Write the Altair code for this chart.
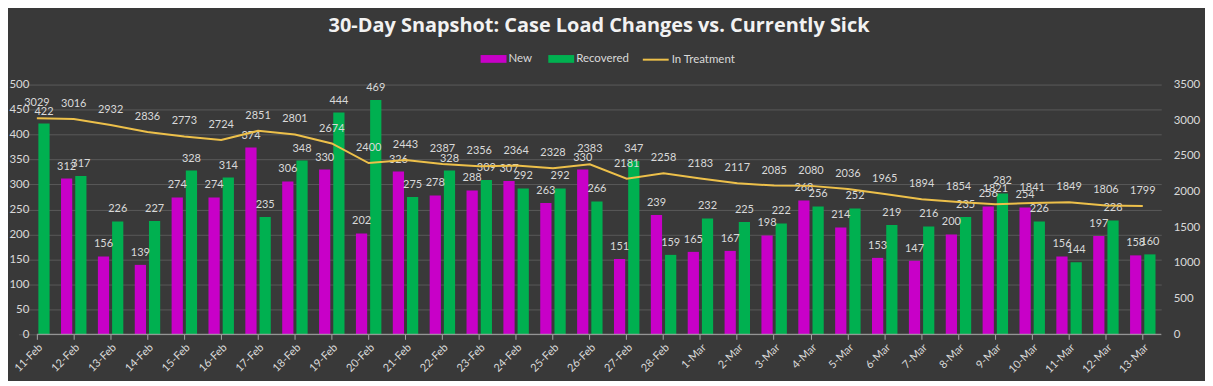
import altair as alt
import pandas as pd

dates = ["11-Feb", "12-Feb", "13-Feb", "14-Feb", "15-Feb", "16-Feb", "17-Feb", "18-Feb",
         "19-Feb", "20-Feb", "21-Feb", "22-Feb", "23-Feb", "24-Feb", "25-Feb", "26-Feb",
         "27-Feb", "28-Feb", "1-Mar", "2-Mar", "3-Mar", "4-Mar", "5-Mar", "6-Mar", "7-Mar",
         "8-Mar", "9-Mar", "10-Mar", "11-Mar", "12-Mar", "13-Mar"]
new_cases = [None, 312, 156, 139, 274, 274, 374, 306, 330, 202, 326, 278, 288, 307, 263, 330,
             151, 239, 165, 167, 198, 268, 214, 153, 147, 200, 256, 254, 156, 197, 158]
recovered = [422, 317, 226, 227, 328, 314, 235, 348, 444, 469, 275, 328, 309, 292, 292, 266,
             347, 159, 232, 225, 222, 256, 252, 219, 216, 235, 282, 226, 144, 228, 160]
in_treatment = [3029, 3016, 2932, 2836, 2773, 2724, 2851, 2801, 2674, 2400, 2443, 2387, 2356,
                2364, 2328, 2383, 2181, 2258, 2183, 2117, 2085, 2080, 2036, 1965, 1894, 1854,
                1821, 1841, 1849, 1806, 1799]
series = ["New", "Recovered"]
left_ticks = list(range(0, 501, 50))
right_ticks = list(range(0, 3501, 500))

FONT = "Lato"
TXT = "#d9d9d9"
W, H = 1130, 251

rows = []
for d, n, r in zip(dates, new_cases, recovered):
    rows.append({"date": d, "series": "New", "value": n})
    rows.append({"date": d, "series": "Recovered", "value": r})
bars_df = pd.DataFrame(rows)
line_df = pd.DataFrame({"date": dates, "it": in_treatment})

xscale = alt.Scale(range=[-18.5, W], paddingInner=0.31, paddingOuter=0.155)
xaxis = alt.Axis(labelAngle=-45, title=None, domain=False, ticks=True, tickSize=5,
                 tickColor="#a6a6a6", labelColor=TXT, labelFont=FONT,
                 labelFontSize=11, labelPadding=2, grid=False)
xenc = alt.X("date:N", sort=dates, scale=xscale, axis=xaxis, title=None)
yl_scale = alt.Scale(domain=[0, 500], nice=False)
yl_axis = alt.Axis(values=left_ticks, title=None, domain=False, ticks=False, format="d",
                   grid=True, gridColor="#5a5a5a", gridWidth=1,
                   labelColor=TXT, labelFont=FONT, labelFontSize=11.5, labelPadding=8)
yr_scale = alt.Scale(domain=[0, 3500], nice=False)
yr_axis = alt.Axis(orient="right", values=right_ticks, title=None, domain=False, format="d",
                   ticks=False, grid=False, labelColor=TXT, labelFont=FONT,
                   labelFontSize=11.5, labelPadding=12)
xoff = alt.XOffset("series:N", sort=series, scale=alt.Scale(paddingInner=0.21))

base_b = alt.Chart(bars_df)
bars = base_b.mark_bar().encode(
    x=xenc,
    xOffset=xoff,
    y=alt.Y("value:Q", scale=yl_scale, axis=yl_axis, title=None),
    color=alt.Color("series:N", sort=series,
                    scale=alt.Scale(domain=series, range=["#C800C8", "#00B050"]),
                    legend=alt.Legend(title=None, orient="none", legendX=446, legendY=-39,
                                      direction="horizontal", symbolType="M-1,-0.3L1,-0.3L1,0.3L-1,0.3Z",
                                      symbolSize=676, symbolStrokeWidth=0, labelColor=TXT,
                                      labelFont=FONT, labelFontSize=11.5, labelOffset=2,
                                      columnPadding=16, padding=0)),
)
bar_labels = base_b.mark_text(font=FONT, fontSize=11, color=TXT, baseline="middle", dy=-12).encode(
    x=xenc,
    xOffset=xoff,
    y=alt.Y("value:Q", scale=yl_scale, axis=yl_axis, title=None),
    text=alt.Text("value:Q"),
)
baseline = alt.Chart(pd.DataFrame({"value": [0]})).mark_rule(color="#a6a6a6", strokeWidth=1).encode(
    y=alt.Y("value:Q", scale=yl_scale, axis=yl_axis, title=None)
)
left_layer = alt.layer(bars, bar_labels, baseline)

base_l = alt.Chart(line_df)
line = base_l.mark_line(strokeWidth=2).encode(
    x=xenc,
    y=alt.Y("it:Q", scale=yr_scale, axis=yr_axis, title=None),
    color=alt.Color("k:N", scale=alt.Scale(domain=["In Treatment"], range=["#EDC04A"]),
                    legend=alt.Legend(title=None, orient="none", legendX=608, legendY=-39,
                                      symbolType="stroke", symbolSize=676, symbolStrokeWidth=2,
                                      labelColor=TXT, labelFont=FONT, labelFontSize=11.5,
                                      labelOffset=2, padding=0)),
).transform_calculate(k="'In Treatment'")
line_labels = base_l.mark_text(font=FONT, fontSize=11, color=TXT, baseline="middle", dy=-15).encode(
    x=xenc,
    y=alt.Y("it:Q", scale=yr_scale, axis=yr_axis, title=None),
    text=alt.Text("it:Q"),
)
right_layer = alt.layer(line, line_labels)

chart = alt.layer(left_layer, right_layer).resolve_scale(
    y="independent", color="independent"
).properties(
    width=W, height=H,
    background="#393939",
    padding={"left": 0, "top": 7, "right": 5, "bottom": 5},
    title=alt.TitleParams("30-Day Snapshot: Case Load Changes vs. Currently Sick",
                          font="Open Sans", fontSize=20, fontWeight="bold", color="#f2f2f2",
                          anchor="middle", frame="group", offset=10),
).configure_view(stroke=None)

chart.save("out.html", embed_options={"renderer": "svg", "actions": False})
